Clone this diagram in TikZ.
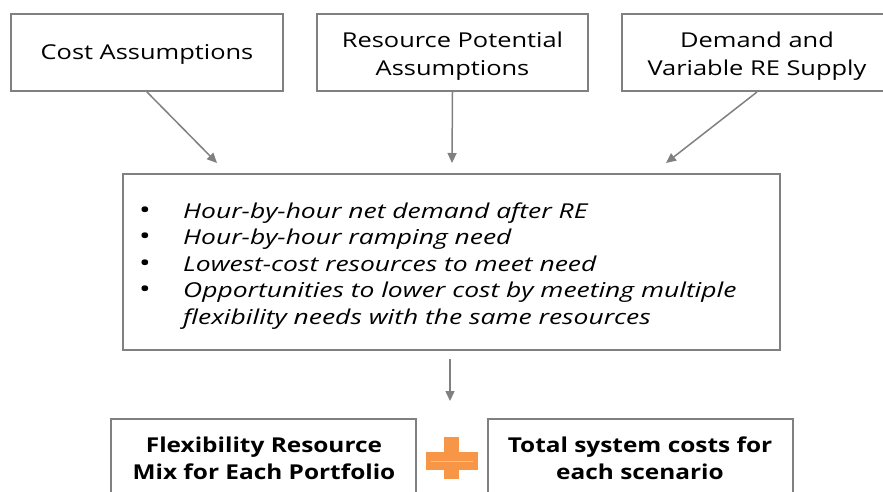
\documentclass[tikz,border=0pt]{standalone}
\usepackage{fontspec}
\setmainfont{Open Sans}[FakeStretch=1.24]
\newfontfamily\listfont{Open Sans}[FakeStretch=1.29]
\newfontfamily\outfont{Open Sans}[FakeStretch=1.19]
\usetikzlibrary{arrows.meta}
\definecolor{boxgray}{RGB}{128,128,128}
\definecolor{plusorange}{RGB}{247,150,70}
\definecolor{pluslight}{RGB}{250,192,144}
\tikzset{
  inbox/.style={draw=boxgray, line width=2pt, inner sep=0pt},
  conn/.style={draw=boxgray, line width=1.5pt, -{Triangle[length=10pt,width=9pt]}},
  toptext/.style={font=\fontsize{20.5}{28}\selectfont, align=center, text=black},
  boldtext/.style={font=\outfont\fontsize{20.5}{27}\selectfont\bfseries, align=center, text=black},
}
\newcommand{\itembul}{\makebox[45pt][l]{\hspace*{1pt}\upshape\fontsize{24}{26}\selectfont\textbullet}}
\begin{document}
\begin{tikzpicture}[x=1pt,y=-1pt]
\useasboundingbox (0,0) rectangle (883,492);
\clip (0,0) rectangle (883,492);
% top boxes
\node[inbox, minimum width=272pt, minimum height=77pt] (b1) at (147,52.5) {};
\node[inbox, minimum width=271pt, minimum height=77pt] (b2) at (452.5,52.5) {};
\node[inbox, minimum width=270pt, minimum height=77pt] (b3) at (757,52.5) {};
\node[toptext] (t1) at (147,54.5) {Cost Assumptions};
\node[toptext] (t2) at (452.5,56) {Resource Potential\\Assumptions};
\node[toptext] (t3) at (757,56) {Demand and\\Variable RE Supply};
% middle box
\node[inbox, minimum width=657pt, minimum height=176pt] (mid) at (451.5,262) {};
\node[anchor=west, align=left, inner sep=0pt, font=\listfont\fontsize{20.5}{26.6}\selectfont\itshape] (list) at (138,266)
 {\itembul Hour-by-hour net demand after RE\\
  \itembul Hour-by-hour ramping need\\
  \itembul Lowest-cost resources to meet need\\
  \itembul Opportunities to lower cost by meeting multiple\\
  \hspace*{45pt}flexibility needs with the same resources};
% bottom boxes
\node[inbox, minimum width=305pt, minimum height=100pt] (o1) at (263.5,469) {};
\node[inbox, minimum width=305pt, minimum height=100pt] (o2) at (640.5,469) {};
\node[boldtext] (ot1) at (264,458) {Flexibility Resource\\Mix for Each Portfolio};
\node[boldtext] (ot2) at (640,458) {Total system costs for\\each scenario};
% plus sign
\fill[plusorange] (426,452) rectangle (478,470);
\fill[plusorange] (444,437) rectangle (459,479);
\draw[pluslight, line width=1pt] (431,461) -- (473,461);
% connectors
\coordinate (e1) at (217,163);
\coordinate (e2) at (452,163);
\coordinate (e3) at (666,163);
\coordinate (s4) at (450,359);
\coordinate (e4) at (450,401);
\draw[conn] (b1.south) -- (e1);
\draw[conn] (b2.south) -- (e2);
\draw[conn] (b3.south) -- (e3);
\draw[conn] (s4) -- (e4);
\end{tikzpicture}
\end{document}
